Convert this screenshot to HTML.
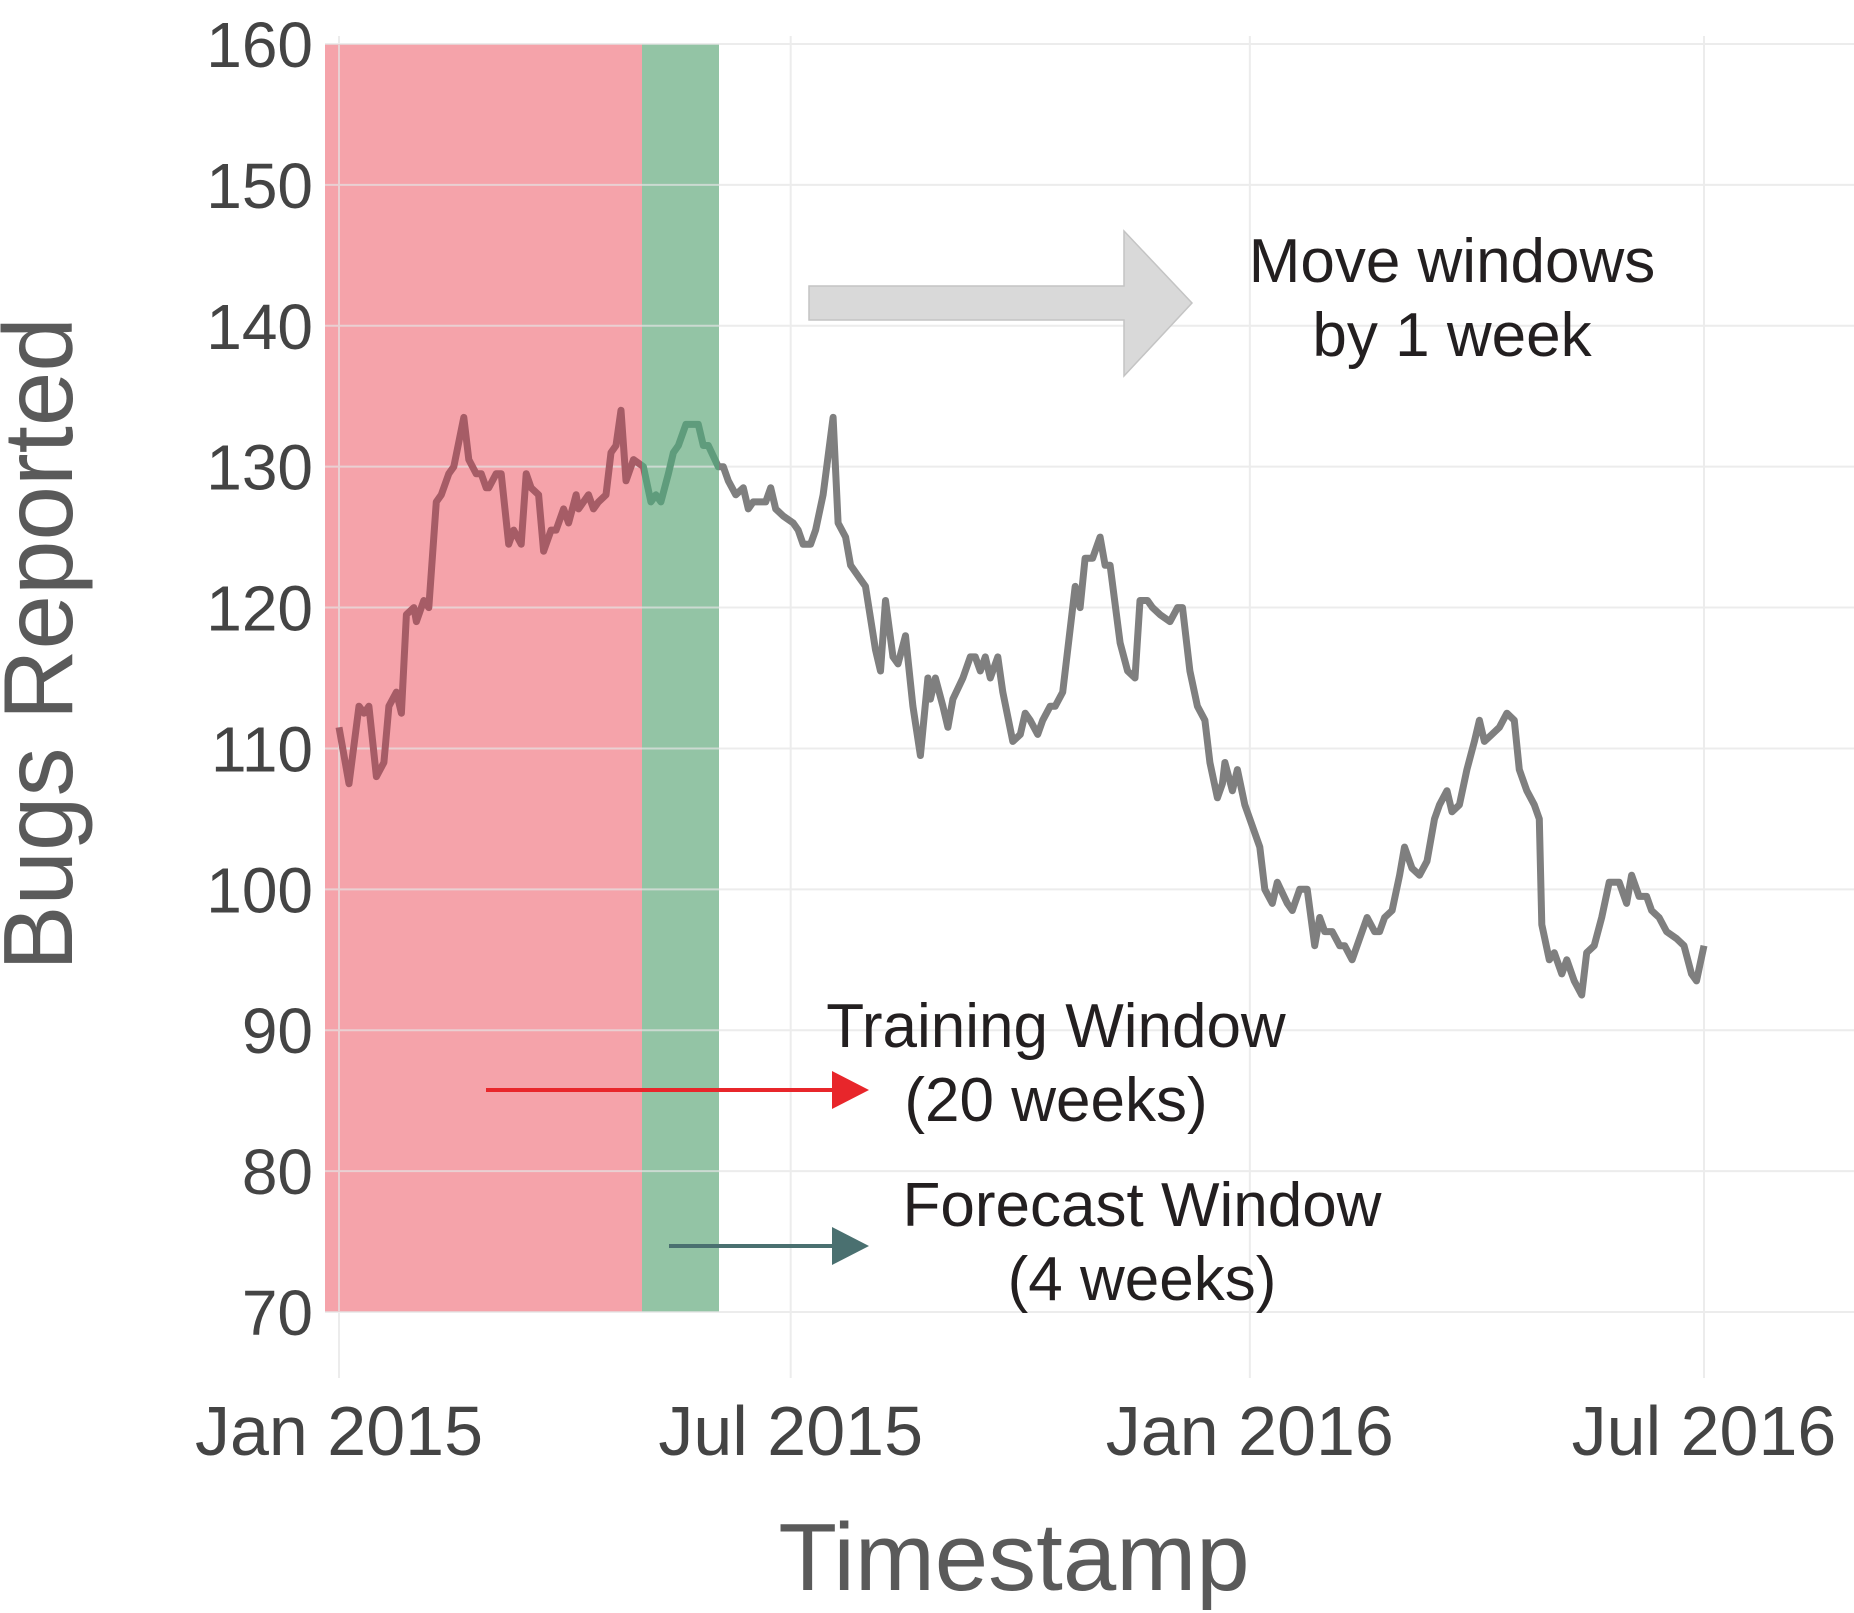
<!DOCTYPE html>
<html><head><meta charset="utf-8"><style>
html,body{margin:0;padding:0;background:#fff;}
svg{display:block;}
</style></head><body>
<svg id="chart" width="1854" height="1613" viewBox="0 0 1854 1613" xmlns="http://www.w3.org/2000/svg" font-family="Liberation Sans, sans-serif">
<defs>
<clipPath id="clipRed"><rect x="325" y="0" width="317" height="1613"/></clipPath>
<clipPath id="clipGreen"><rect x="642" y="0" width="77" height="1613"/></clipPath>
<clipPath id="clipRest"><rect x="719" y="0" width="1135" height="1613"/><rect x="0" y="0" width="325" height="1613"/></clipPath>
</defs>
<rect x="325" y="44" width="317" height="1268" fill="#f5a3aa"/>
<rect x="642" y="44" width="77" height="1268" fill="#93c4a5"/>
<g id="grid" opacity="0.7"></g>
<g id="series"></g>
<g id="yticks" font-size="64" fill="#444" text-anchor="end"></g>
<g id="xticks" font-size="70" fill="#444" text-anchor="middle"></g>
<text transform="translate(72,644) rotate(-90)" text-anchor="middle" font-size="98" fill="#5a5a5a">Bugs Reported</text>
<text x="1014" y="1590" text-anchor="middle" font-size="96" fill="#5a5a5a">Timestamp</text>
<g>
<polygon points="809,286 1124,286 1124,231 1192,303 1124,376 1124,320 809,320" fill="#d9d9d9" stroke="#c4c4c4" stroke-width="1.5"/>
</g>
<text x="1452" y="282" text-anchor="middle" font-size="62" fill="#231f20">Move windows</text>
<text x="1452" y="356" text-anchor="middle" font-size="62" fill="#231f20">by 1 week</text>
<g>
<line x1="486" y1="1090" x2="836" y2="1090" stroke="#e8262b" stroke-width="4"/>
<polygon points="832,1071 869,1090 832,1109" fill="#e8262b"/>
</g>
<g>
<line x1="669" y1="1246" x2="836" y2="1246" stroke="#4a7070" stroke-width="4"/>
<polygon points="832,1227 869,1246 832,1265" fill="#4a7070"/>
</g>
<text x="1056" y="1047" text-anchor="middle" font-size="62" fill="#231f20">Training Window</text>
<text x="1056" y="1121" text-anchor="middle" font-size="62" fill="#231f20">(20 weeks)</text>
<text x="1142" y="1226" text-anchor="middle" font-size="62" fill="#231f20">Forecast Window</text>
<text x="1142" y="1300" text-anchor="middle" font-size="62" fill="#231f20">(4 weeks)</text>
</svg>
<script>
const days = [0,4,8,10,12,15,18,20,23,25,27,30,31,34,36,39,41,44,46,50,52,55,57,59,60,63,65,68,70,73,75,77,80,82,85,87,90,92,95,96,100,102,104,107,109,111,113,115,118,122,125,127,129,132,134,136,139,144,146,148,152,154,156,159,162,164,166,168,171,173,175,178,182,184,186,189,191,194,198,200,203,205,209,211,215,217,219,222,224,227,230,233,236,237,239,242,244,246,250,253,255,257,259,261,264,266,270,273,275,277,280,282,285,287,290,293,295,297,299,302,305,307,309,313,316,319,321,324,326,329,333,336,338,341,344,347,349,352,354,355,358,360,363,366,369,371,374,376,380,382,385,388,391,393,395,398,401,403,406,409,412,415,417,419,422,425,427,430,433,436,439,441,444,446,449,452,455,457,459,462,465,468,471,473,476,479,481,482,485,487,490,492,495,498,500,503,506,509,513,516,518,521,524,526,529,532,536,539,542,544,547];
const bugs = [111.5,107.5,113,112.5,113,108,109,113,114,112.5,119.5,120,119,120.5,120,127.5,128,129.5,130,133.5,130.5,129.5,129.5,128.5,128.5,129.5,129.5,124.5,125.5,124.5,129.5,128.5,128,124,125.5,125.5,127,126,128,127,128,127,127.5,128,131,131.5,134,129,130.5,130,127.5,128,127.5,129.5,131,131.5,133,133,131.5,131.5,130,130,129,128,128.5,127,127.5,127.5,127.5,128.5,127,126.5,126,125.5,124.5,124.5,125.5,128,133.5,126,125,123,122,121.5,117,115.5,120.5,116.5,116,118,113,109.5,115,113.5,115,113,111.5,113.5,115,116.5,116.5,115.5,116.5,115,116.5,114,110.5,111,112.5,112,111,112,113,113,114,118.5,121.5,120,123.5,123.5,125,123,123,117.5,115.5,115,120.5,120.5,120,119.5,119,120,120,115.5,113,112,109,106.5,107.5,109,107,108.5,106,104.5,103,100,99,100.5,99,98.5,100,100,96,98,97,97,96,96,95,96.5,98,97,97,98,98.5,101,103,101.5,101,102,105,106,107,105.5,106,108.5,110.5,112,110.5,111,111.5,112.5,112,108.5,107,106,105,97.5,95,95.5,94,95,93.5,92.5,95.5,96,98,100.5,100.5,99,101,99.5,99.5,98.5,98,97,96.5,96,94,93.5,96];
const yTicks = [70,80,90,100,110,120,130,140,150,160];
const xTickLabels = ["Jan 2015","Jul 2015","Jan 2016","Jul 2016"];
const xTickDays = [0,181,365,547];

const NS = "http://www.w3.org/2000/svg";
function xScale(d){ return 339 + d*(1704-339)/547; }
function yScale(v){ return 1312 - (v-70)*(1312-44)/90; }
function mk(tag, attrs, parent){ const e=document.createElementNS(NS,tag); for(const k in attrs) e.setAttribute(k,attrs[k]); parent.appendChild(e); return e; }

const grid=document.getElementById('grid');
yTicks.forEach(v=>{
  const l=mk('line',{x1:325,x2:1854,y1:yScale(v),y2:yScale(v),stroke:'#e4e4e4','stroke-width':2},grid);
  
  
});
xTickDays.forEach(d=>{
  const l=mk('line',{x1:xScale(d),x2:xScale(d),y1:36,y2:1378,stroke:'#e4e4e4','stroke-width':2},grid);
  
  
});
const yt=document.getElementById('yticks');
yTicks.forEach(v=>{
  const t=mk('text',{x:313,y:yScale(v)+23},yt); t.textContent=v;
  
  
});
const xt=document.getElementById('xticks');
xTickLabels.forEach((s,i)=>{
  const t=mk('text',{x:xScale(xTickDays[i]),y:1455},xt); t.textContent=s;
  
  
});
const pts=days.map((d,i)=>xScale(d).toFixed(1)+','+yScale(bugs[i]).toFixed(1)).join(' ');
const ser=document.getElementById('series');
[['clipRest','#7f7f7f'],['clipRed','#a65c66'],['clipGreen','#5f9c7c']].forEach(([c,col])=>{
  const p=mk('polyline',{points:pts,fill:'none',stroke:col,'stroke-width':7,'stroke-linejoin':'round','clip-path':'url(#'+c+')'},ser);
  
  
});
</script>
</body></html>
